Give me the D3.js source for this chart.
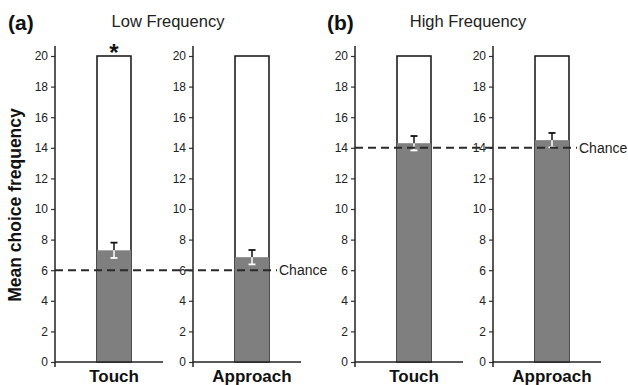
<!DOCTYPE html>
<html>
<head>
<meta charset="utf-8">
<script src="https://cdn.jsdelivr.net/npm/d3@7"></script>
<style>
  body { margin: 0; background: #fff; }
  svg { display: block; font-family: "Liberation Sans", Arial, sans-serif; }
</style>
</head>
<body>
<figure id="chart" style="margin:0"></figure>
<script>
// data
const categories = ["Touch", "Approach"];
const conditions = ["Low Frequency", "High Frequency"];
const panelTags = ["(a)", "(b)"];
const lowMeans = [7.3, 6.85];
const lowSE = [0.5, 0.47];
const highMeans = [14.3, 14.5];
const highSE = [0.47, 0.47];
const chance = [6, 14];
const maxTrials = 20;
const yTicks = [0, 2, 4, 6, 8, 10, 12, 14, 16, 18, 20];
const significant = [[true, false], [false, false]];

const width = 628, height = 385;
const axisX = [[55, 193], [355, 493]]; // left edge of each small plot
const plotW = 108;

const svg = d3.select("figure#chart")
  .append("svg")
  .attr("width", width)
  .attr("height", height);

const y = d3.scaleLinear().domain([0, maxTrials]).range([362, 56]);

const means = [lowMeans, highMeans];
const ses = [lowSE, highSE];

conditions.forEach((cond, p) => {
  categories.forEach((cat, i) => {
    const ax = axisX[p][i];
    const x = d3.scaleBand().domain([cat]).range([ax + 10, ax + plotW]).padding(0.485);
    const g = svg.append("g");

    // outlined bar (total trials)
    g.append("rect")
      .attr("x", x(cat))
      .attr("y", y(maxTrials))
      .attr("width", x.bandwidth())
      .attr("height", y(0) - y(maxTrials))
      .attr("fill", "#fff")
      .attr("stroke", "#111")
      .attr("stroke-width", 1.5);

    // filled part (mean choices)
    const m = means[p][i], se = ses[p][i];
    g.append("rect")
      .attr("x", x(cat))
      .attr("y", y(m))
      .attr("width", x.bandwidth())
      .attr("height", y(0) - y(m))
      .attr("fill", "#7f7f7f");

    // error bar: black above the mean, white inside the bar
    const cx = x(cat) + x.bandwidth() / 2;
    g.append("line")
      .attr("x1", cx).attr("x2", cx)
      .attr("y1", y(m + se)).attr("y2", y(m))
      .attr("stroke", "#111").attr("stroke-width", 1.5);
    g.append("line")
      .attr("x1", cx - 3.5).attr("x2", cx + 3.5)
      .attr("y1", y(m + se)).attr("y2", y(m + se))
      .attr("stroke", "#111").attr("stroke-width", 1.8);
    g.append("line")
      .attr("x1", cx).attr("x2", cx)
      .attr("y1", y(m)).attr("y2", y(m - se))
      .attr("stroke", "#fff").attr("stroke-width", 1.5);
    g.append("line")
      .attr("x1", cx - 3.5).attr("x2", cx + 3.5)
      .attr("y1", y(m - se)).attr("y2", y(m - se))
      .attr("stroke", "#fff").attr("stroke-width", 1.8);

    // y axis
    const yAxis = g.append("g")
      .attr("transform", "translate(" + ax + ",0)")
      .call(d3.axisLeft(y).tickValues(yTicks).tickSize(4).tickPadding(3));
    yAxis.select(".domain").remove();
    yAxis.selectAll(".tick line").attr("stroke", "#333").attr("stroke-width", 1.2);
    yAxis.selectAll("text")
      .attr("fill", "#222")
      .style("font-size", "12px")
      .style("font-family", "Liberation Sans, Arial, sans-serif");
    g.append("line")
      .attr("x1", ax).attr("x2", ax)
      .attr("y1", y(0) + 5).attr("y2", y(maxTrials) - 10)
      .attr("stroke", "#222").attr("stroke-width", 1.5);

    // x baseline
    g.append("line")
      .attr("x1", ax).attr("x2", ax + plotW)
      .attr("y1", y(0)).attr("y2", y(0))
      .attr("stroke", "#222").attr("stroke-width", 1.5);

    g.append("text")
      .attr("x", cx).attr("y", 382)
      .attr("text-anchor", "middle")
      .style("font-size", "17px").style("font-weight", "bold")
      .attr("fill", "#111")
      .text(cat);

    if (significant[p][i]) {
      g.append("text")
        .attr("x", cx).attr("y", y(maxTrials) + 5)
        .attr("text-anchor", "middle")
        .style("font-size", "24px").style("font-weight", "bold")
        .attr("fill", "#111")
        .text("*");
    }
  });

  // chance line
  const x0 = axisX[p][0], x1 = axisX[p][1] + 84;
  svg.append("line")
    .attr("x1", x0).attr("x2", x1)
    .attr("y1", y(chance[p])).attr("y2", y(chance[p]))
    .attr("stroke", "#2a2a2a").attr("stroke-width", 2)
    .attr("stroke-dasharray", "8,5");
  svg.append("text")
    .attr("x", x1 + 2).attr("y", y(chance[p]) + 5)
    .style("font-size", "14px")
    .attr("fill", "#222")
    .text("Chance");

  // panel title and tag
  const mid = (axisX[p][0] + axisX[p][1] + plotW) / 2 - 10;
  svg.append("text")
    .attr("x", axisX[p][0] - 47 + (p === 1 ? 19 : 0)).attr("y", 30)
    .style("font-size", "21px").style("font-weight", "bold")
    .attr("fill", "#111")
    .text(panelTags[p]);
  svg.append("text")
    .attr("x", mid).attr("y", 27)
    .attr("text-anchor", "middle")
    .style("font-size", "16.5px")
    .attr("fill", "#222")
    .text(cond);
});

svg.append("text")
  .attr("transform", "translate(21,205) rotate(-90)")
  .attr("text-anchor", "middle")
  .style("font-size", "17.5px").style("font-weight", "bold")
  .attr("fill", "#111")
  .text("Mean choice frequency");
</script>
</body>
</html>
